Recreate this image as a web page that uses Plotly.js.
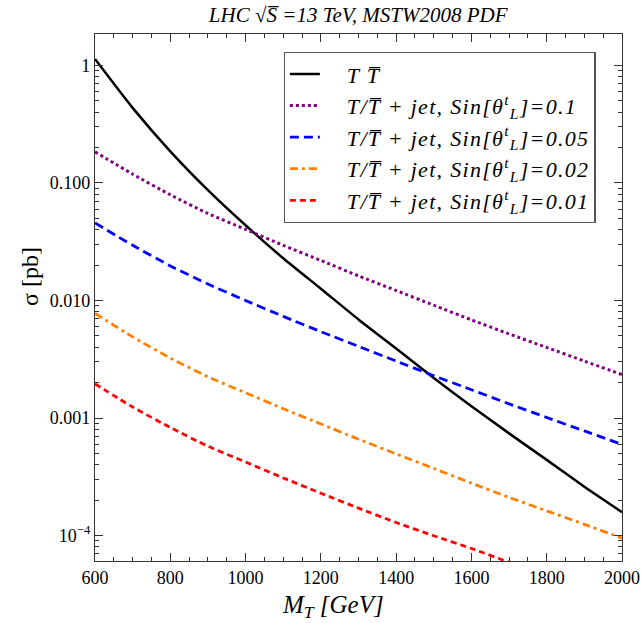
<!DOCTYPE html>
<html>
<head>
<meta charset="utf-8">
<script src="https://cdn.plot.ly/plotly-3.0.1.min.js"></script>
<style>html,body{margin:0;padding:0;background:#fff;}#chart{width:642px;height:623px;}</style>
</head>
<body>
<div id="chart"></div>
<script>
const massGeV = [600,700,800,900,1000,1100,1200,1300,1400,1500,1600,1700,1800,1900,2000];
const sigmaPair = [1.135,0.436,0.186,0.087,0.0437,0.0229,0.0126,0.0069,0.0039,0.00219,0.00126,0.00074,0.00044,0.00026,0.000158];
const sigmaSin010 = [0.184,0.119,0.0794,0.0550,0.0403,0.0295,0.0219,0.0162,0.01216,0.00912,0.00684,0.00519,0.00398,0.00305,0.00234];
const sigmaSin005 = [0.0457,0.0295,0.0197,0.0138,0.0100,0.00733,0.00543,0.00407,0.00305,0.00229,0.00174,0.00132,0.00101,0.000776,0.000596];
const sigmaSin002 = [0.00776,0.0049,0.00324,0.00224,0.00164,0.00120,0.00089,0.00066,0.000495,0.000372,0.000279,0.000211,0.000162,0.0001245,0.000095];
const sigmaSin001 = [0.00195,0.00124,0.00083,0.000575,0.000422,0.000309,0.000229,0.000171,0.000129,0.0000995,0.0000775,0.0000592,0.0000455,0.000035,0.000027];
const seriesNames = [
  "<i>T T\u0305</i>",
  "<i>T/T\u0305 + jet, Sin[θ<sup>t</sup><sub>L</sub>]=0.1</i>",
  "<i>T/T\u0305 + jet, Sin[θ<sup>t</sup><sub>L</sub>]=0.05</i>",
  "<i>T/T\u0305 + jet, Sin[θ<sup>t</sup><sub>L</sub>]=0.02</i>",
  "<i>T/T\u0305 + jet, Sin[θ<sup>t</sup><sub>L</sub>]=0.01</i>"
];
const yTickVals = [1,0.1,0.01,0.001,0.0001];
const yTickText = ["1","0.100","0.010","0.001","10<sup>−4</sup>"];
const titleText = "<i>LHC √S\u0305 =13 TeV, MSTW2008 PDF</i>";
const xTitle = "<i>M<sub>T</sub> [GeV]</i>";
const yTitle = "σ [pb]";

const minorY = [];
for (let e = -5; e <= 0; e++) for (let m = 2; m <= 9; m++) minorY.push(m*Math.pow(10,e));

const font = "Liberation Serif, Times New Roman, serif";
const pad = "\u00a0\u00a0\u00a0\u00a0";
const styles = [
  {color:"#000000", width:2.5, dash:"solid"},
  {color:"#800080", width:3, dash:"3px,3px"},
  {color:"#0000ff", width:2.8, dash:"9px,5px"},
  {color:"#ff8000", width:2.8, dash:"8px,4px,3px,4px"},
  {color:"#ff0000", width:2.8, dash:"6px,4px"}
];
const series = [sigmaPair, sigmaSin010, sigmaSin005, sigmaSin002, sigmaSin001];
const traces = series.map((ys,i)=>({
  x: massGeV, y: ys, type:"scatter", mode:"lines",
  name: pad + "<span style='letter-spacing:1.3px'>" + seriesNames[i] + "</span>",
  line: Object.assign({shape:"spline", smoothing:0.6}, styles[i])
}));

const layout = {
  width:642, height:623,
  margin:{l:95, r:20, t:34, b:62},
  paper_bgcolor:"#fff", plot_bgcolor:"#fff",
  font:{family:font, size:17, color:"#000"},
  title:{text:titleText, x:0.558, xanchor:"center", y:0.976, yanchor:"middle", font:{family:font, size:21, color:"#000"}},
  showlegend:true,
  legend:{x:0.358, y:0.966, xanchor:"left", yanchor:"top", bgcolor:"#fff", bordercolor:"#555", borderwidth:1.2,
          font:{family:font, size:22, color:"#000"}, tracegroupgap:0},
  xaxis:{range:[600,2000], showgrid:false, zeroline:false, showline:true, linecolor:"#333", linewidth:1.2, mirror:"ticks",
         ticks:"inside", ticklen:8, tickcolor:"#333", tickwidth:1, dtick:200, tick0:600,
         tickfont:{family:font, size:18, color:"#000"},
         minor:{dtick:50, ticklen:4, tickcolor:"#333", ticks:"inside", showgrid:false}},
  yaxis:{type:"log", range:[-4.217,0.268], showgrid:false, zeroline:false, showline:true, linecolor:"#333", linewidth:1.2, mirror:"ticks",
         ticks:"inside", ticklen:8, tickcolor:"#333", tickwidth:1, tickmode:"array", tickvals:yTickVals, ticktext:yTickText,
         tickfont:{family:font, size:18, color:"#000"},
         minor:{tickmode:"array", tickvals:minorY, ticklen:4, tickcolor:"#333", ticks:"inside", showgrid:false}},
  annotations:[
    {text:xTitle, xref:"paper", yref:"paper", x:(333-95)/527, y:-(606-561)/527, xanchor:"center", yanchor:"middle", showarrow:false, font:{family:font, size:25, color:"#000"}},
    {text:yTitle, xref:"paper", yref:"paper", x:-(95-30)/527, y:1-(277-34)/527, xanchor:"center", yanchor:"middle", textangle:-90, showarrow:false, font:{family:font, size:24, color:"#000"}}
  ]
};
Plotly.newPlot("chart", traces, layout, {staticPlot:true, displayModeBar:false});
</script>
</body>
</html>
